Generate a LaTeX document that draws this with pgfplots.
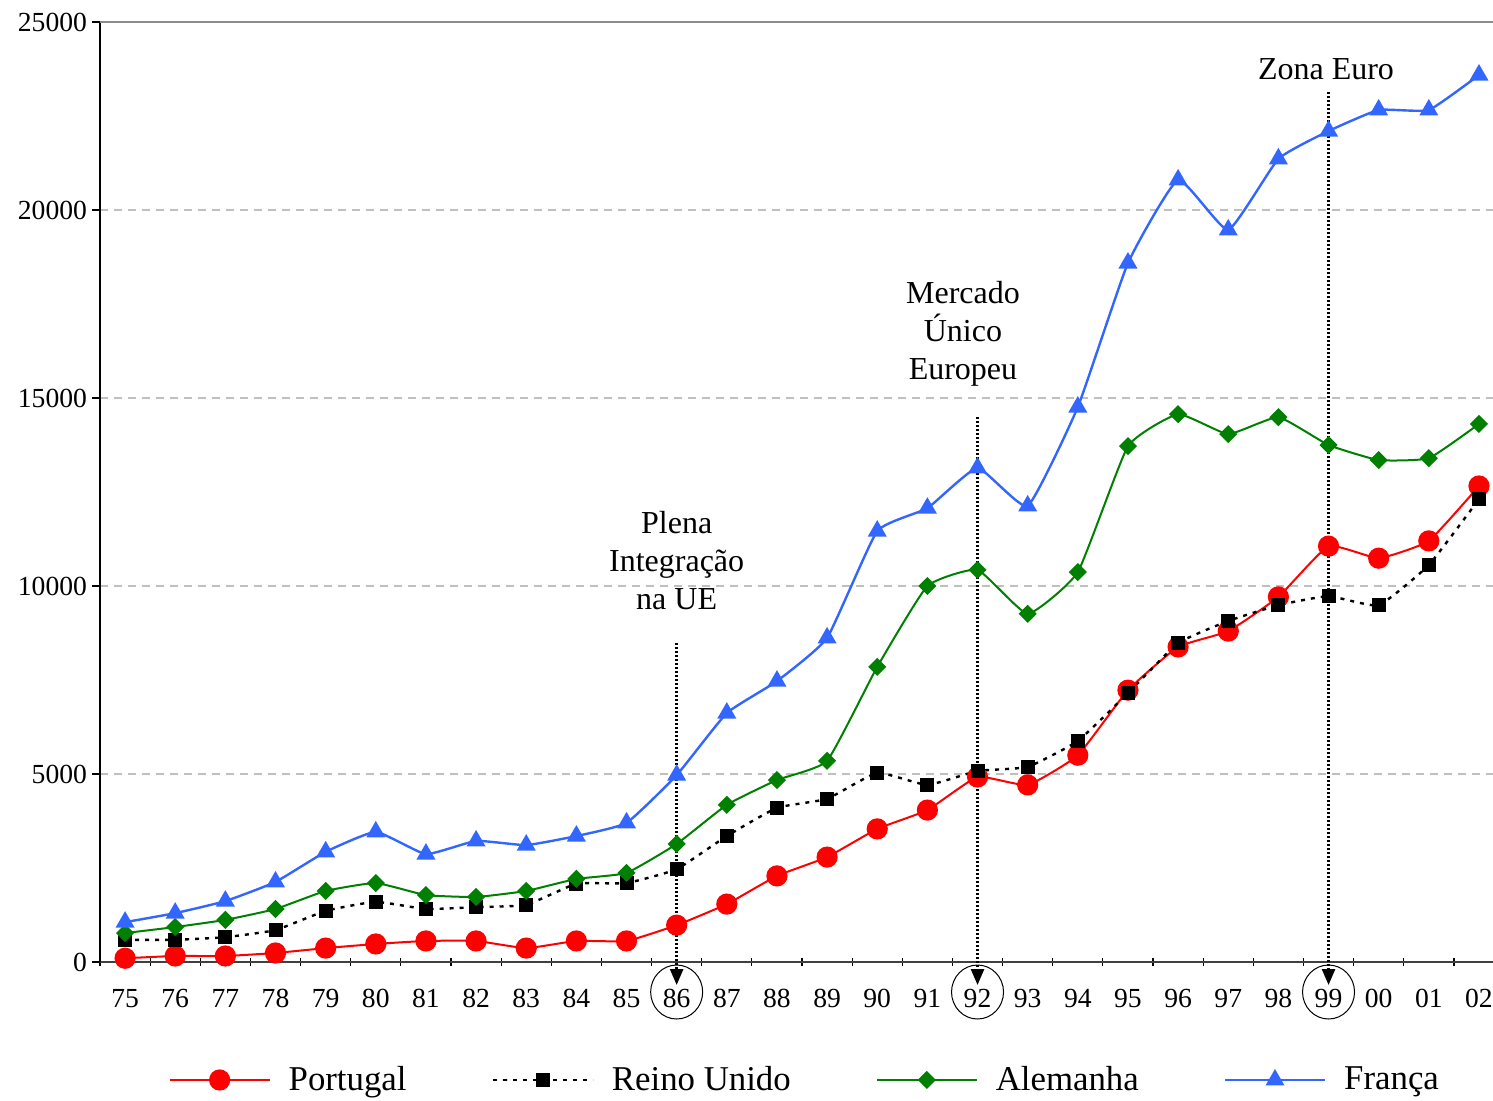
\documentclass[border=0pt]{standalone}
\usepackage{fontspec}
\setmainfont{Liberation Serif}
\usepackage{pgfplots}
\usepackage{pgfplotstable}
\pgfplotsset{compat=1.18}
\usetikzlibrary{arrows.meta}

\definecolor{ptred}{RGB}{255,0,0}
\definecolor{degreen}{RGB}{0,128,0}
\definecolor{frblue}{RGB}{51,102,255}

\pgfplotstableread{
x  pt    uk    de    fr
0  100   590   770   1060
1  160   590   930   1300
2  160   660   1120  1620
3  240   850   1410  2130
4  370   1360  1890  2930
5  480   1600  2100  3460
6  560   1410  1780  2870
7  560   1460  1730  3220
8  370   1520  1890  3110
9  560   2080  2210  3350
10 560   2100  2370  3700
11 980   2470  3140  4970
12 1540  3350  4180  6620
13 2290  4100  4840  7470
14 2790  4340  5350  8620
15 3540  5030  7850  11460
16 4040  4710  10000 12070
17 4920  5080  10430 13140
18 4710  5190  9260  12130
19 5500  5880  10370 14760
20 7230  7150  13720 18590
21 8380  8480  14570 20800
22 8800  9070  14040 19470
23 9710  9490  14490 21360
24 11060 9730  13750 22100
25 10740 9490  13350 22660
26 11200 10560 13400 22660
27 12660 12310 14310 23590
}\datatable

\begin{document}
\begin{tikzpicture}
\begin{axis}[
  at={(50pt,-481pt)}, anchor=south west,
  scale only axis, width=696.5pt, height=470pt,
  xmin=-0.5, xmax=27.28, ymin=0, ymax=25000,
  clip=false,
  axis x line*=bottom, axis y line*=left,
  axis line style={-},
  x axis line style={draw=black!75, line width=0.9pt},
  y axis line style={black, line width=0.7pt},
  tick align=outside, major tick length=4pt,
  tick style={black, line width=0.6pt},
  xtick={-0.5,0.5,...,27.5}, xticklabels={},
  xtick style={yshift=2pt},
  extra x ticks={0,1,...,27},
  extra x tick labels={75,76,77,78,79,80,81,82,83,84,85,86,87,88,89,90,91,92,93,94,95,96,97,98,99,00,01,02},
  extra x tick style={tick style={draw=none}},
  xticklabel style={yshift=-6pt},
  scaled y ticks=false,
  ytick={0,5000,10000,15000,20000},
  extra y ticks={25000},
  extra y tick style={grid=major, major grid style={solid, draw=black!45, line width=0.9pt}},
  ymajorgrids,
  major grid style={draw=black!25, line width=0.6pt, dash pattern=on 4pt off 3pt},
  ticklabel style={font=\fontsize{13.8}{16}\selectfont},
  yticklabel style={xshift=1pt},
  /pgf/number format/assume math mode=true,
  /pgf/number format/.cd, fixed, precision=0, set thousands separator={}, /pgfplots/.cd,
  legend columns=4,
  legend style={at={(0.049,-0.1255)}, anchor=west, draw=none, inner sep=0pt,
    font=\fontsize{17.4}{20}\selectfont,
    /tikz/every even column/.append style={column sep=40.5pt},
    /tikz/every odd column/.append style={column sep=7pt}},
  legend image code/.code={\draw[mark repeat=2,mark phase=2,#1] plot coordinates {(0pt,0pt) (25pt,0pt) (50pt,0pt)};},
]
\addplot[ptred, line width=1pt, smooth, tension=0.25, mark=*, mark size=4.8pt, mark options={solid, fill=ptred, draw=ptred}] table[x=x,y=pt] {\datatable};
\addlegendentry{Portugal}
\addplot[black, line width=1.2pt, dash pattern=on 2pt off 3pt, smooth, tension=0.25, mark=square*, mark size=2.9pt, mark options={solid, fill=black}] table[x=x,y=uk] {\datatable};
\addlegendentry{Reino Unido}
\addplot[degreen, line width=1pt, smooth, tension=0.25, mark=square*, mark size=2.7pt, mark options={solid, fill=degreen, rotate=45}] table[x=x,y=de] {\datatable};
\addlegendentry{Alemanha}
\addplot[frblue, line width=1.2pt, smooth, tension=0.25, mark=triangle*, mark size=4.3pt, mark options={solid, fill=frblue}] table[x=x,y=fr] {\datatable};
\addlegendentry{França}

% annotations
\draw[line width=1.3pt, dash pattern=on 1pt off 1pt, -{Triangle[width=6.5pt,length=8pt]}] (axis cs:11,8484) -- (axis cs:11,-612);
\draw[line width=1.3pt, dash pattern=on 1pt off 1pt, -{Triangle[width=6.5pt,length=8pt]}] (axis cs:17,14495) -- (axis cs:17,-612);
\draw[line width=1.3pt, dash pattern=on 1pt off 1pt, -{Triangle[width=6.5pt,length=8pt]}] (axis cs:24,23138) -- (axis cs:24,-612);
\draw[line width=0.5pt] (axis cs:11,-798) ellipse [x radius=13pt, y radius=13.5pt];
\draw[line width=0.5pt] (axis cs:17,-798) ellipse [x radius=13pt, y radius=13.5pt];
\draw[line width=0.5pt] (axis cs:24,-798) ellipse [x radius=13pt, y radius=13.5pt];
\node[align=center, font=\fontsize{16}{19}\selectfont] at (axis cs:11,10665) {Plena\\Integração\\na UE};
\node[align=center, font=\fontsize{16}{19}\selectfont] at (axis cs:16.71,16700) {Mercado\\Único\\Europeu};
\node[align=center, font=\fontsize{16}{19}\selectfont] at (axis cs:23.95,23750) {Zona Euro};
\end{axis}
\pgfresetboundingbox
\useasboundingbox (0pt,0pt) rectangle (746.5pt,-550.5pt);
\end{tikzpicture}
\end{document}
